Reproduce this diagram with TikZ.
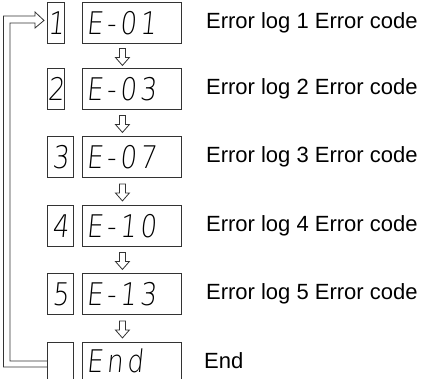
\documentclass[tikz,border=0pt]{standalone}
\usepackage{fontspec}
\usepackage{graphicx}
\newfontfamily\lab{Liberation Sans}
\newfontfamily\segfam{DejaVu Sans ExtraLight}[FakeSlant=0.12, LetterSpace=14]
\usetikzlibrary{calc}
\definecolor{lc}{HTML}{333333}
\newcommand{\segf}{\segfam\fontsize{26}{26}\selectfont}
\newcommand{\seg}[1]{\scalebox{1}[1.2]{#1}}
\begin{document}
\begin{tikzpicture}[x=1pt,y=-1pt,
  box/.style={draw=lc, line width=0.9pt, inner sep=0pt, anchor=north west, minimum height=41pt},
  numbox/.style={box, minimum width=#1, font=\segf},
  codebox/.style={box, minimum width=99pt, text width=91pt, inner xsep=4pt, align=left, font=\segf},
  openbox/.style={draw=none, minimum height=37pt},
  lbl/.style={anchor=west, font=\lab\fontsize{22}{26}\selectfont, inner sep=0pt},
  blk/.style={draw=lc, line width=0.8pt, fill=white, line join=miter},
  dn/.pic={\draw[blk] (-3,-8.5) -- (3,-8.5) -- (3,0.5) -- (7,0.5) -- (0,8.5) -- (-7,0.5) -- (-3,0.5) -- cycle;}]
\useasboundingbox (0,0) rectangle (429,379);
% number boxes
\node[numbox=17pt] (n1) at (47,2)   {\seg{1}};
\node[numbox=17pt] (n2) at (47,68)  {\seg{2}};
\node[numbox=26pt] (n3) at (47,136) {\seg{3}};
\node[numbox=26pt] (n4) at (47,205) {\seg{4}};
\node[numbox=26pt] (n5) at (47,273) {\seg{5}};
\node[numbox=26pt, openbox] (n6) at (47,342) {};
% code boxes
\node[codebox] (c1) at (82,2)   {\seg{E-01}};
\node[codebox] (c2) at (82,68)  {\seg{E-03}};
\node[codebox] (c3) at (82,136) {\seg{E-07}};
\node[codebox] (c4) at (82,205) {\seg{E-10}};
\node[codebox] (c5) at (82,273) {\seg{E-13}};
\node[codebox, openbox] (c6) at (82,342) {\seg{End}};
\draw[draw=lc, line width=0.9pt] ([yshift=-3pt]n6.south west) |- (n6.north east) -- ([yshift=-3pt]n6.south east);
\draw[draw=lc, line width=0.9pt] ([yshift=-3pt]c6.south west) |- (c6.north east) -- ([yshift=-3pt]c6.south east);
% labels
\node[lbl] (l1) at ($(c1.east)+(24,0)$) {Error log 1 Error code};
\node[lbl] (l2) at ($(c2.east)+(24,0)$) {Error log 2 Error code};
\node[lbl] (l3) at ($(c3.east)+(24,0)$) {Error log 3 Error code};
\node[lbl] (l4) at ($(c4.east)+(24,0)$) {Error log 4 Error code};
\node[lbl] (l5) at ($(c5.east)+(24,0)$) {Error log 5 Error code};
\node[lbl] (l6) at ($(c6.east)+(22,0)$) {End};
% down arrows
\pic at ($(c1.south)!.5!(c2.north)+(-9.5,1)$) {dn};
\pic at ($(c2.south)!.5!(c3.north)+(-9.5,1)$) {dn};
\pic at ($(c3.south)!.5!(c4.north)+(-9.5,1)$) {dn};
\pic at ($(c4.south)!.5!(c5.north)+(-9.5,1)$) {dn};
\pic at ($(c5.south)!.5!(c6.north)+(-9.5,1)$) {dn};
% feedback loop arrow
\draw[blk, fill=none] ([yshift=-19pt]n6.north west) -- (10,361) -- (10,23) -- (35,23) -- (35,28)
  -- ([xshift=-3pt,yshift=2.5pt]n1.west) -- (35,12) -- (35,16) -- (3.5,16) -- (3.5,367)
  -- ([yshift=-25pt]n6.north west);
\end{tikzpicture}
\end{document}
